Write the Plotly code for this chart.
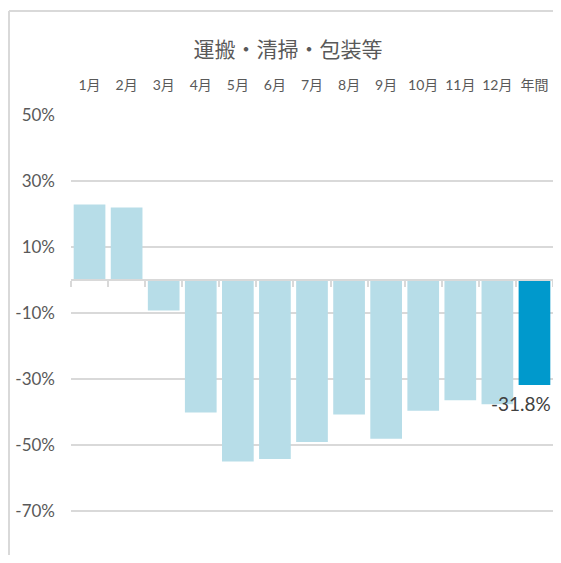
import plotly.graph_objects as go

title = "運搬・清掃・包装等"
categories = ["1月", "2月", "3月", "4月", "5月", "6月", "7月", "8月", "9月", "10月", "11月", "12月", "年間"]
values = [22.9, 22.0, -9.2, -40.1, -55.0, -54.2, -49.1, -40.7, -48.1, -39.6, -36.4, -37.6, -31.8]
y_tickvals = [50, 30, 10, -10, -30, -50, -70]
y_ticktext = ["50%", "30%", "10%", "-10%", "-30%", "-50%", "-70%"]

light = "#b7dde8"
dark = "#0099cc"
colors = [light] * (len(categories) - 1) + [dark]

# page has an 8px body margin; figure is sized/positioned to compensate
W, H = 545, 547
ml, mr, mt, mb = 63, 0, 107, 0
ymin, ymax = -83.3, 50
font_fam = "Lato, Noto Sans CJK JP, sans-serif"
grey = "#595959"
gridc = "#d9d9d9"

fig = go.Figure()
fig.add_trace(go.Bar(x=categories, y=values, marker=dict(color=colors, line=dict(width=0)),
                     width=0.855, showlegend=False, hoverinfo="skip"))
n = len(categories)
fig.add_trace(go.Scatter(x=[-0.5, n - 0.5], y=[0, 0], xaxis="x2", mode="lines",
                         line=dict(width=0), showlegend=False, hoverinfo="skip"))

zero_pos = (0 - ymin) / (ymax - ymin)
pw = W - ml - mr
ph = H - mt - mb

fig.update_layout(
    width=W, height=H,
    margin=dict(l=ml, r=mr, t=mt, b=mb, pad=0),
    paper_bgcolor="white", plot_bgcolor="white",
    font=dict(family=font_fam, color=grey, size=14),
    xaxis=dict(side="top", type="category", showgrid=False, showline=False, ticks="",
               tickfont=dict(size=14, color=grey), ticklabelstandoff=21, range=[-0.5, n - 0.5]),
    xaxis2=dict(overlaying="x", anchor="free", position=zero_pos, range=[-0.5, n - 0.5],
                showline=True, linecolor=gridc, linewidth=2, ticks="outside", tickcolor=gridc,
                ticklen=6, tickwidth=1.5, tickvals=[i - 0.5 for i in range(n + 1)],
                showticklabels=False, showgrid=False, zeroline=False, side="bottom"),
    yaxis=dict(range=[ymin, ymax], tickvals=y_tickvals, ticktext=y_ticktext, showgrid=True,
               gridcolor=gridc, gridwidth=1.5, zeroline=False, showline=False,
               tickfont=dict(size=17, color=grey), ticklabelstandoff=15),
    title=dict(text=title, x=280 / W, xanchor="center", y=1 - 42 / H, yanchor="middle",
               font=dict(size=21, color=grey, family="Noto Sans CJK JP, sans-serif")),
    shapes=[
        dict(type="line", xref="paper", yref="paper", x0=(1 - ml) / pw, x1=1,
             y0=(H - 3) / ph, y1=(H - 3) / ph, line=dict(color=gridc, width=2)),
        dict(type="line", xref="paper", yref="paper", x0=(1 - ml) / pw, x1=(1 - ml) / pw,
             y0=-0.05, y1=(H - 3) / ph, line=dict(color=gridc, width=2)),
    ],
    annotations=[dict(x=categories[-1], y=values[-1], text=f"{values[-1]:.1f}%", showarrow=False,
                      xanchor="right", yanchor="top", xshift=19, yshift=-5,
                      font=dict(size=19, color="#404040", family=font_fam))],
)

fig.write_html("out.html")
